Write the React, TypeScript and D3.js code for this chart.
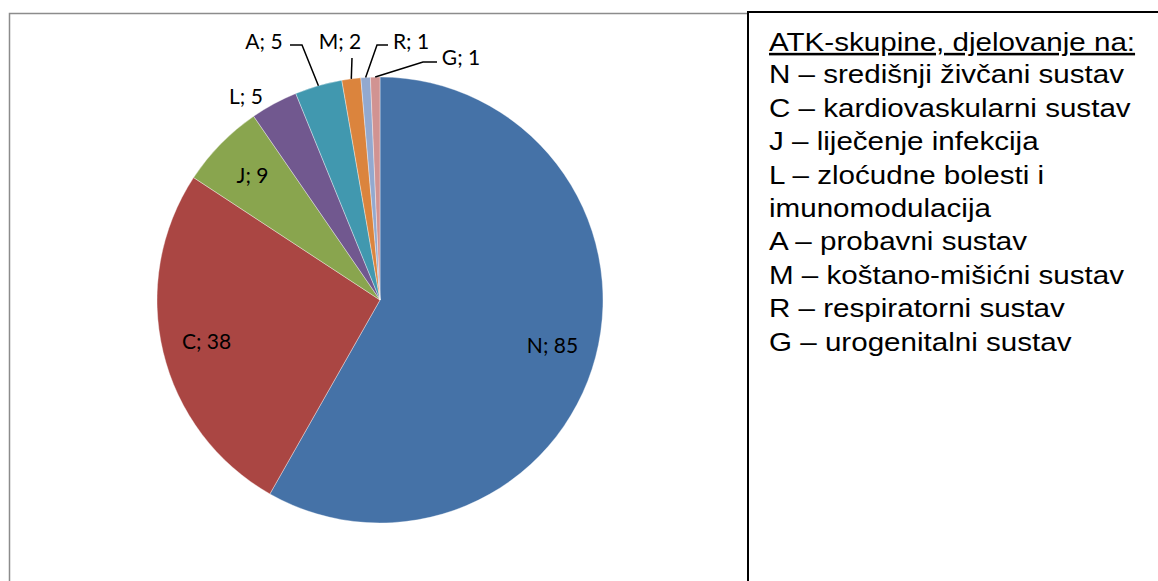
import React, { useEffect, useRef } from 'react';
import * as d3 from 'd3';

// ATK skupine i broj lijekova
const groups = ['N', 'C', 'J', 'L', 'A', 'M', 'R', 'G'];
const counts = [85, 38, 9, 5, 5, 2, 1, 1];
const colors = ['#4572A7', '#AA4643', '#89A54E', '#71588F', '#4198AF', '#DB843D', '#93A9CF', '#D19392'];

const legendTitle = 'ATK-skupine, djelovanje na:';
const legendLines = [
  'N – središnji živčani sustav',
  'C – kardiovaskularni sustav',
  'J – liječenje infekcija',
  'L – zloćudne bolesti i',
  'imunomodulacija',
  'A – probavni sustav',
  'M – koštano-mišićni sustav',
  'R – respiratorni sustav',
  'G – urogenitalni sustav',
];

// label placement (layout only): inside labels use centroid, outside ones get a fixed spot + leader
const outsideLabels: Record<string, { x: number; y: number; elbow?: [number, number]; end?: [number, number] }> = {
  L: { x: 246, y: 97 },
  A: { x: 264, y: 42, elbow: [302, 45], end: [290, 45] },
  M: { x: 340, y: 42, elbow: [352, 58], end: [352, 58] },
  R: { x: 411, y: 42, elbow: [377, 45], end: [388, 45] },
  G: { x: 461, y: 58, elbow: [423, 62], end: [437, 62] },
};

const W = 1158;
const H = 581;

const App = () => {
  const ref = useRef<SVGSVGElement>(null);

  useEffect(() => {
    const svg = d3.select(ref.current);
    svg.selectAll('*').remove();

    // chart area border (gray) and legend box (black)
    svg.append('rect')
      .attr('x', 9.5).attr('y', 13.5)
      .attr('width', 739).attr('height', 600)
      .style('fill', 'none').style('stroke', '#8c8c8c').style('stroke-width', 1.5);

    svg.append('rect')
      .attr('x', 748).attr('y', 12)
      .attr('width', 430).attr('height', 600)
      .style('fill', '#fff').style('stroke', '#000').style('stroke-width', 2);

    const cx = 380, cy = 300, r = 223;
    const g = svg.append('g').attr('transform', `translate(${cx},${cy})`);

    const data = groups.map((k, i) => ({ key: k, value: counts[i], color: colors[i] }));
    const pie = d3.pie<any>().sort(null).value(d => d.value);
    const arcs = pie(data);
    const arc = d3.arc<any>().innerRadius(0).outerRadius(r);
    const labelArc = d3.arc<any>().innerRadius(r * 0.8).outerRadius(r * 0.8);
    const edgeArc = d3.arc<any>().innerRadius(r).outerRadius(r);

    g.selectAll('.slice')
      .data(arcs)
      .enter().append('path')
      .attr('class', 'slice')
      .attr('d', arc)
      .style('fill', d => d.data.color)
      .style('stroke', '#fff')
      .style('stroke-width', 0.6)
      .style('stroke-opacity', 0.6);

    const font = 'Lato, "Open Sans", sans-serif';
    const fs = '21px';

    arcs.forEach(d => {
      const key = d.data.key;
      const text = `${key}; ${d.data.value}`;
      const out = outsideLabels[key];
      if (!out) {
        const [x, y] = labelArc.centroid(d);
        g.append('text')
          .attr('x', x).attr('y', y)
          .attr('text-anchor', 'middle').attr('dy', '0.35em')
          .style('font-family', font).style('font-size', fs).style('fill', '#000')
          .text(text);
        return;
      }
      svg.append('text')
        .attr('x', out.x).attr('y', out.y)
        .attr('text-anchor', 'middle').attr('dy', '0.35em')
        .style('font-family', font).style('font-size', fs).style('fill', '#000')
        .text(text);
      if (out.elbow && out.end) {
        const [ex, ey] = edgeArc.centroid(d);
        const pts: [number, number][] = [[ex + cx, ey + cy], out.elbow, out.end];
        svg.append('path')
          .attr('d', d3.line()(pts))
          .style('fill', 'none').style('stroke', '#000').style('stroke-width', 1.5);
      }
    });

    // legend (text in the original is slightly wide, so stretch horizontally)
    const lx = 769;
    const legFont = '"Liberation Sans", Arial, sans-serif';
    const leg = svg.append('g').attr('transform', `translate(${lx},0) scale(1.16,1)`);
    leg.append('text')
      .attr('x', 0).attr('y', 51)
      .style('font-family', legFont)
      .style('font-size', '25.5px')
      .style('text-decoration', 'underline')
      .text(legendTitle);

    leg.selectAll('.leg')
      .data(legendLines)
      .enter().append('text')
      .attr('class', 'leg')
      .attr('x', 0)
      .attr('y', (d, i) => 83.5 + i * 33.4)
      .style('font-family', legFont)
      .style('font-size', '25.5px')
      .text(d => d);
  }, []);

  return (
    <svg ref={ref} width={W} height={H}
      style={{ position: 'absolute', left: 0, top: 0, background: '#fff' }} />
  );
};

export default App;
